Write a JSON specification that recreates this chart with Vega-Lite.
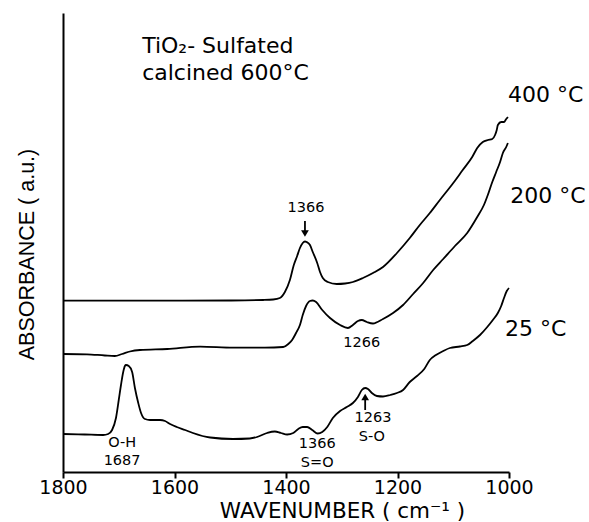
{
  "$schema": "https://vega.github.io/schema/vega-lite/v6.json",
  "width": 446,
  "height": 459,
  "autosize": "none",
  "padding": {"left": 63, "top": 13, "right": 80, "bottom": 50},
  "background": "white",
  "config": {
    "view": {"stroke": null},
    "axis": {"grid": false, "domainColor": "#000", "domainWidth": 2, "tickColor": "#000", "labelColor": "#000", "titleColor": "#000", "titleFontWeight": "normal"}
  },
  "datasets": {
    "spectra": [
      {"s": "400", "wn": 1800, "a": 171.3}, {"s": "400", "wn": 1698, "a": 171.3}, {"s": "400", "wn": 1590, "a": 171.3},
      {"s": "400", "wn": 1500, "a": 171.5}, {"s": "400", "wn": 1441, "a": 172}, {"s": "400", "wn": 1423, "a": 172.5},
      {"s": "400", "wn": 1411, "a": 174}, {"s": "400", "wn": 1402, "a": 180}, {"s": "400", "wn": 1393, "a": 192},
      {"s": "400", "wn": 1386, "a": 207}, {"s": "400", "wn": 1380, "a": 216}, {"s": "400", "wn": 1375, "a": 224},
      {"s": "400", "wn": 1370, "a": 229}, {"s": "400", "wn": 1366, "a": 230.5}, {"s": "400", "wn": 1363, "a": 230},
      {"s": "400", "wn": 1357, "a": 227}, {"s": "400", "wn": 1352, "a": 220}, {"s": "400", "wn": 1344, "a": 209},
      {"s": "400", "wn": 1339, "a": 200}, {"s": "400", "wn": 1334, "a": 194}, {"s": "400", "wn": 1325, "a": 190},
      {"s": "400", "wn": 1309, "a": 188}, {"s": "400", "wn": 1294, "a": 188.5}, {"s": "400", "wn": 1280, "a": 190},
      {"s": "400", "wn": 1262, "a": 194}, {"s": "400", "wn": 1244, "a": 199}, {"s": "400", "wn": 1226, "a": 205},
      {"s": "400", "wn": 1201, "a": 219}, {"s": "400", "wn": 1178, "a": 234}, {"s": "400", "wn": 1160, "a": 247},
      {"s": "400", "wn": 1142, "a": 259}, {"s": "400", "wn": 1124, "a": 272}, {"s": "400", "wn": 1100, "a": 289},
      {"s": "400", "wn": 1083, "a": 302}, {"s": "400", "wn": 1066, "a": 315}, {"s": "400", "wn": 1057, "a": 324},
      {"s": "400", "wn": 1047, "a": 330}, {"s": "400", "wn": 1038, "a": 332}, {"s": "400", "wn": 1030, "a": 333},
      {"s": "400", "wn": 1025, "a": 337}, {"s": "400", "wn": 1022, "a": 342}, {"s": "400", "wn": 1020, "a": 347},
      {"s": "400", "wn": 1014, "a": 350}, {"s": "400", "wn": 1009, "a": 350}, {"s": "400", "wn": 1005, "a": 353},
      {"s": "400", "wn": 1002, "a": 355},

      {"s": "200", "wn": 1800, "a": 118}, {"s": "200", "wn": 1757, "a": 117.7}, {"s": "200", "wn": 1725, "a": 116.5},
      {"s": "200", "wn": 1707, "a": 116}, {"s": "200", "wn": 1694, "a": 118}, {"s": "200", "wn": 1680, "a": 120.5},
      {"s": "200", "wn": 1662, "a": 122}, {"s": "200", "wn": 1613, "a": 123}, {"s": "200", "wn": 1554, "a": 125.3},
      {"s": "200", "wn": 1495, "a": 124.3}, {"s": "200", "wn": 1438, "a": 124.3}, {"s": "200", "wn": 1405, "a": 125},
      {"s": "200", "wn": 1396, "a": 128}, {"s": "200", "wn": 1389, "a": 132}, {"s": "200", "wn": 1382, "a": 139},
      {"s": "200", "wn": 1375, "a": 147}, {"s": "200", "wn": 1370, "a": 157}, {"s": "200", "wn": 1364, "a": 166},
      {"s": "200", "wn": 1357, "a": 171}, {"s": "200", "wn": 1352, "a": 171.5}, {"s": "200", "wn": 1346, "a": 170},
      {"s": "200", "wn": 1335, "a": 162}, {"s": "200", "wn": 1321, "a": 154}, {"s": "200", "wn": 1303, "a": 147},
      {"s": "200", "wn": 1289, "a": 144}, {"s": "200", "wn": 1280, "a": 147}, {"s": "200", "wn": 1271, "a": 151},
      {"s": "200", "wn": 1264, "a": 152}, {"s": "200", "wn": 1255, "a": 150}, {"s": "200", "wn": 1244, "a": 148.5},
      {"s": "200", "wn": 1226, "a": 153}, {"s": "200", "wn": 1208, "a": 159}, {"s": "200", "wn": 1190, "a": 167},
      {"s": "200", "wn": 1172, "a": 178}, {"s": "200", "wn": 1154, "a": 189}, {"s": "200", "wn": 1136, "a": 202},
      {"s": "200", "wn": 1118, "a": 213}, {"s": "200", "wn": 1097, "a": 226}, {"s": "200", "wn": 1075, "a": 239},
      {"s": "200", "wn": 1057, "a": 255}, {"s": "200", "wn": 1045, "a": 267}, {"s": "200", "wn": 1038, "a": 277},
      {"s": "200", "wn": 1030, "a": 290}, {"s": "200", "wn": 1023, "a": 300}, {"s": "200", "wn": 1016, "a": 310},
      {"s": "200", "wn": 1011, "a": 319}, {"s": "200", "wn": 1005, "a": 325}, {"s": "200", "wn": 1002, "a": 329},

      {"s": "25", "wn": 1800, "a": 38}, {"s": "25", "wn": 1761, "a": 37.5}, {"s": "25", "wn": 1728, "a": 37},
      {"s": "25", "wn": 1719, "a": 38}, {"s": "25", "wn": 1712, "a": 42}, {"s": "25", "wn": 1705, "a": 54},
      {"s": "25", "wn": 1700, "a": 72}, {"s": "25", "wn": 1696, "a": 87}, {"s": "25", "wn": 1692, "a": 100},
      {"s": "25", "wn": 1689, "a": 106}, {"s": "25", "wn": 1687, "a": 107}, {"s": "25", "wn": 1682, "a": 106},
      {"s": "25", "wn": 1676, "a": 100}, {"s": "25", "wn": 1671, "a": 84}, {"s": "25", "wn": 1665, "a": 69},
      {"s": "25", "wn": 1660, "a": 59}, {"s": "25", "wn": 1653, "a": 53}, {"s": "25", "wn": 1644, "a": 52},
      {"s": "25", "wn": 1626, "a": 52}, {"s": "25", "wn": 1617, "a": 51}, {"s": "25", "wn": 1608, "a": 48},
      {"s": "25", "wn": 1596, "a": 45}, {"s": "25", "wn": 1581, "a": 42}, {"s": "25", "wn": 1567, "a": 39},
      {"s": "25", "wn": 1536, "a": 34.5}, {"s": "25", "wn": 1495, "a": 33}, {"s": "25", "wn": 1465, "a": 33.5},
      {"s": "25", "wn": 1452, "a": 35}, {"s": "25", "wn": 1434, "a": 39}, {"s": "25", "wn": 1420, "a": 40.5},
      {"s": "25", "wn": 1409, "a": 39}, {"s": "25", "wn": 1398, "a": 37.5}, {"s": "25", "wn": 1387, "a": 39},
      {"s": "25", "wn": 1378, "a": 43}, {"s": "25", "wn": 1370, "a": 45}, {"s": "25", "wn": 1362, "a": 45},
      {"s": "25", "wn": 1353, "a": 42}, {"s": "25", "wn": 1343, "a": 38.5}, {"s": "25", "wn": 1335, "a": 40},
      {"s": "25", "wn": 1326, "a": 45}, {"s": "25", "wn": 1316, "a": 54}, {"s": "25", "wn": 1303, "a": 61},
      {"s": "25", "wn": 1291, "a": 65}, {"s": "25", "wn": 1280, "a": 69}, {"s": "25", "wn": 1271, "a": 75},
      {"s": "25", "wn": 1264, "a": 82}, {"s": "25", "wn": 1258, "a": 84}, {"s": "25", "wn": 1253, "a": 83},
      {"s": "25", "wn": 1246, "a": 79}, {"s": "25", "wn": 1237, "a": 76}, {"s": "25", "wn": 1226, "a": 75.5},
      {"s": "25", "wn": 1213, "a": 77}, {"s": "25", "wn": 1201, "a": 79}, {"s": "25", "wn": 1190, "a": 82},
      {"s": "25", "wn": 1178, "a": 90}, {"s": "25", "wn": 1165, "a": 96}, {"s": "25", "wn": 1152, "a": 103},
      {"s": "25", "wn": 1142, "a": 112}, {"s": "25", "wn": 1131, "a": 117}, {"s": "25", "wn": 1118, "a": 121},
      {"s": "25", "wn": 1106, "a": 124}, {"s": "25", "wn": 1088, "a": 125.5}, {"s": "25", "wn": 1075, "a": 127},
      {"s": "25", "wn": 1065, "a": 131}, {"s": "25", "wn": 1052, "a": 137}, {"s": "25", "wn": 1039, "a": 145},
      {"s": "25", "wn": 1029, "a": 152}, {"s": "25", "wn": 1020, "a": 159}, {"s": "25", "wn": 1014, "a": 166},
      {"s": "25", "wn": 1009, "a": 174}, {"s": "25", "wn": 1004, "a": 181}, {"s": "25", "wn": 1000, "a": 184}
    ],
    "arrows": [
      {"wn": 1366, "a": 251, "a2": 239, "head": 238.5, "shape": "triangle-down"},
      {"wn": 1258, "a": 62, "a2": 73, "head": 75, "shape": "triangle-up"}
    ],
    "peaks": [
      {"label": "1366", "wn": 1364, "a": 264},
      {"label": "1266", "wn": 1264, "a": 129},
      {"label": "1263", "wn": 1244, "a": 54},
      {"label": "S-O", "wn": 1246, "a": 35.5},
      {"label": "1366", "wn": 1344, "a": 28},
      {"label": "S=O", "wn": 1344, "a": 9.5},
      {"label": "O-H", "wn": 1694, "a": 29.5},
      {"label": "1687", "wn": 1694, "a": 11}
    ],
    "temps": [
      {"label": "400 °C", "wn": 934, "a": 377},
      {"label": "200 °C", "wn": 930, "a": 276},
      {"label": "25 °C", "wn": 952, "a": 143}
    ],
    "sample": [
      {"label": "TiO₂- Sulfated", "wn": 1658, "a": 426},
      {"label": "calcined 600°C", "wn": 1658, "a": 399}
    ]
  },
  "encoding": {
    "x": {
      "field": "wn", "type": "quantitative",
      "scale": {"domain": [1000, 1800], "reverse": true, "nice": false, "zero": false},
      "axis": {
        "values": [1800, 1600, 1400, 1200, 1000], "format": "d",
        "labelFont": "DejaVu Sans", "labelFontSize": 19, "labelPadding": 0, "labelFlush": false,
        "tickSize": 6, "tickWidth": 2,
        "title": "WAVENUMBER ( cm⁻¹ )", "titleFont": "DejaVu Sans", "titleFontSize": 21.5,
        "titleX": 279, "titleY": 45, "titleAlign": "center", "titleBaseline": "alphabetic"
      }
    },
    "y": {
      "field": "a", "type": "quantitative",
      "scale": {"domain": [0, 459], "nice": false, "zero": false},
      "axis": {
        "labels": false, "ticks": false,
        "title": "ABSORBANCE ( a.u.)", "titleFont": "Liberation Sans", "titleFontSize": 21.5,
        "titleAngle": -90, "titleX": -25, "titleY": 241, "titleAlign": "center", "titleBaseline": "bottom"
      }
    }
  },
  "layer": [
    {
      "data": {"name": "spectra"},
      "mark": {"type": "line", "color": "#000", "strokeWidth": 1.8, "interpolate": "monotone"},
      "encoding": {"detail": {"field": "s", "type": "nominal"}}
    },
    {
      "data": {"name": "arrows"},
      "mark": {"type": "rule", "color": "#000", "strokeWidth": 1.8},
      "encoding": {"y2": {"field": "a2"}}
    },
    {
      "data": {"name": "arrows"},
      "mark": {"type": "point", "filled": true, "color": "#000", "opacity": 1, "size": 60},
      "encoding": {
        "y": {"field": "head", "type": "quantitative"},
        "shape": {"field": "shape", "type": "nominal", "scale": null}
      }
    },
    {
      "data": {"name": "peaks"},
      "mark": {"type": "text", "font": "DejaVu Sans", "fontSize": 14.5, "color": "#000", "align": "center", "baseline": "middle"},
      "encoding": {"text": {"field": "label"}}
    },
    {
      "data": {"name": "temps"},
      "mark": {"type": "text", "font": "DejaVu Sans", "fontSize": 22, "color": "#000", "align": "center", "baseline": "middle"},
      "encoding": {"text": {"field": "label"}}
    },
    {
      "data": {"name": "sample"},
      "mark": {"type": "text", "font": "DejaVu Sans", "fontSize": 22, "color": "#000", "align": "left", "baseline": "middle"},
      "encoding": {"text": {"field": "label"}}
    }
  ]
}
